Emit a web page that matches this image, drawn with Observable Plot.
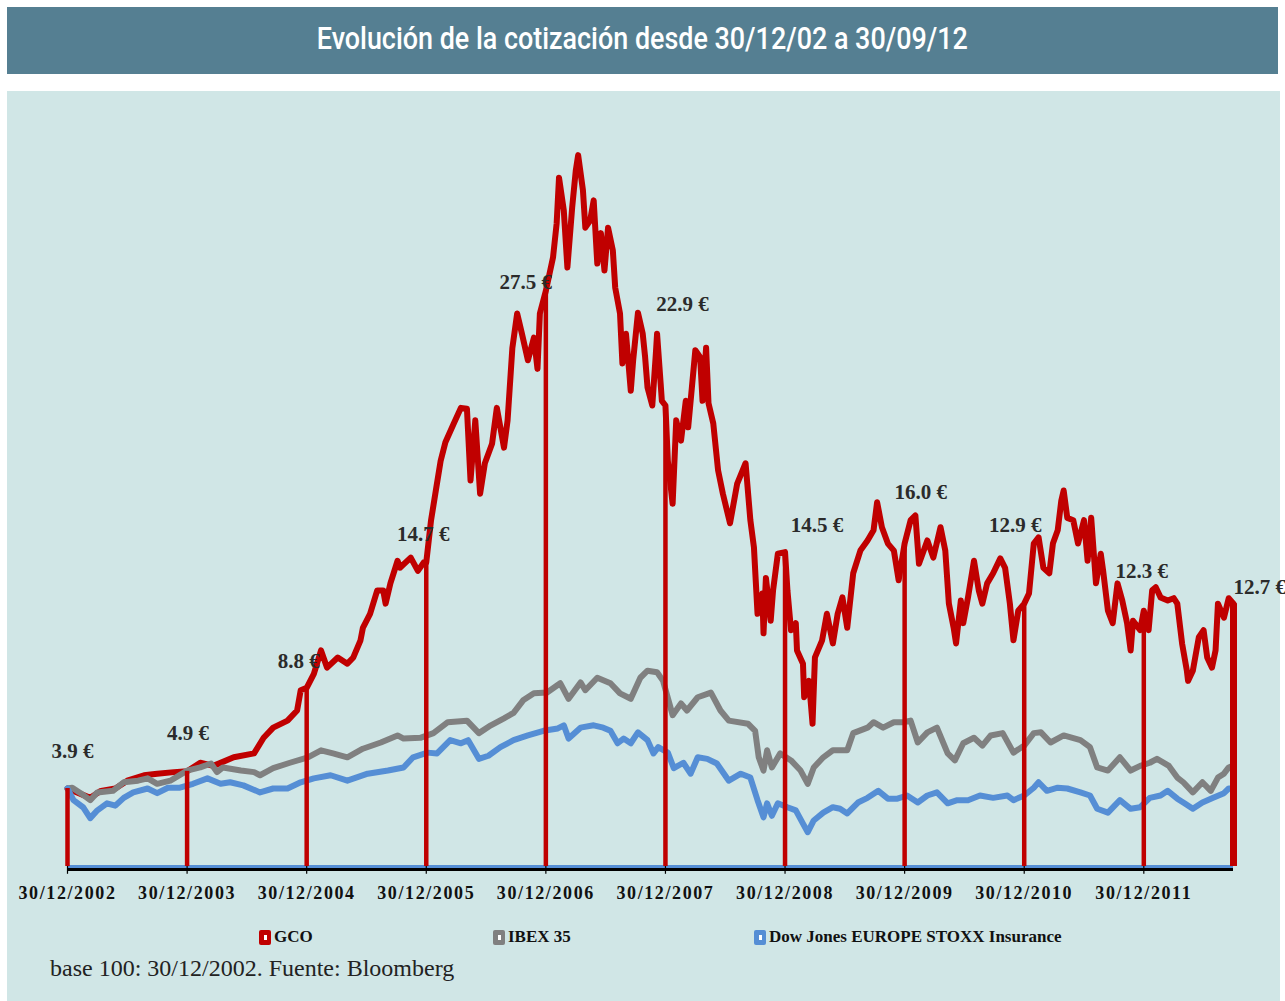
<!DOCTYPE html>
<html><head><meta charset="utf-8">
<script src="https://cdn.jsdelivr.net/npm/d3@7"></script>
<script src="https://cdn.jsdelivr.net/npm/@observablehq/plot@0.6"></script>
<style>
body{margin:0;background:#fff;width:1285px;height:1001px;overflow:hidden;position:relative;}
#banner{position:absolute;left:7px;top:7px;width:1271px;height:67px;background:#557F92;}
#title{position:absolute;left:0;top:-3px;width:100%;height:67px;display:flex;align-items:center;justify-content:center;}
#title span{display:inline-block;color:#fff;font-family:Roboto,sans-serif;font-size:32px;font-weight:500;white-space:nowrap;transform-origin:center;}
#panel{position:absolute;left:7px;top:91px;width:1273px;height:910px;background:#D0E6E6;}
#chart{position:absolute;left:0;top:0;}
.leg{position:absolute;top:928px;height:18px;display:flex;align-items:center;font-family:"Liberation Serif",serif;font-weight:bold;font-size:17px;color:#111;white-space:nowrap;}
.key{width:12px;height:15px;border-radius:2px;margin-right:3px;position:relative;}
.key::after{content:"";position:absolute;left:4.5px;top:5px;width:3px;height:5px;background:#fff;}
#caption{position:absolute;left:50px;top:955px;font-family:"Liberation Serif",serif;font-size:24px;color:#222;white-space:nowrap;}
</style></head>
<body>
<div id="banner"><div id="title"><span id="tt">Evolución de la cotización desde 30/12/02 a 30/09/12</span></div></div>
<div id="panel"><div id="chart"></div></div>
<div class="leg" style="left:259px"><div class="key" style="background:#C00000"></div>GCO</div>
<div class="leg" style="left:493px"><div class="key" style="background:#808080"></div>IBEX 35</div>
<div class="leg" style="left:754px"><div class="key" style="background:#558ED5"></div>Dow Jones EUROPE STOXX Insurance</div>
<div id="caption">base 100: 30/12/2002. Fuente: Bloomberg</div>
<script>
// base 100 index values; time as decimal year (2003.00 = 30/12/2002)
const gco = [
[2003.00,100],[2003.19,88],[2003.28,97],[2003.40,100],[2003.50,110],[2003.64,117],[2003.75,119],[2003.89,121],
[2004.00,122],[2004.11,133],[2004.22,129],[2004.39,140],[2004.56,145],[2004.64,165],[2004.72,178],[2004.84,187],[2004.92,200],[2004.95,226],
[2005.00,229],[2005.06,247],[2005.12,277],[2005.17,255],[2005.26,268],[2005.34,260],[2005.39,268],[2005.45,290],[2005.47,306],[2005.53,324],[2005.59,354],[2005.64,354],[2005.66,337],[2005.70,363],[2005.76,392],[2005.78,383],[2005.87,396],[2005.93,379],[2005.98,390],
[2006.00,390],[2006.04,444],[2006.08,482],[2006.12,520],[2006.16,544],[2006.23,568],[2006.29,588],[2006.34,587],[2006.37,495],[2006.41,572],[2006.45,478],[2006.49,517],[2006.55,542],[2006.59,588],[2006.65,537],[2006.68,572],[2006.72,665],[2006.76,709],[2006.80,683],[2006.85,649],[2006.90,678],[2006.93,638],[2006.95,709],
[2007.00,738],[2007.06,781],[2007.09,824],[2007.11,883],[2007.15,841],[2007.18,768],[2007.22,845],[2007.25,892],[2007.27,912],[2007.31,867],[2007.33,819],[2007.37,828],[2007.40,854],[2007.43,773],[2007.46,812],[2007.49,764],[2007.52,819],[2007.56,790],[2007.58,742],[2007.62,709],[2007.64,645],[2007.67,683],[2007.71,610],[2007.73,649],[2007.77,710],[2007.81,683],[2007.83,653],[2007.85,614],[2007.89,591],[2007.92,658],[2007.93,683],[2007.96,619],[2007.97,597],
[2008.00,591],[2008.02,520],[2008.06,465],[2008.09,572],[2008.13,546],[2008.17,597],[2008.19,563],[2008.25,662],[2008.29,653],[2008.31,597],[2008.34,665],[2008.36,594],[2008.40,568],[2008.44,508],[2008.48,478],[2008.54,440],[2008.60,491],[2008.67,517],[2008.71,444],[2008.74,409],[2008.77,324],[2008.81,350],[2008.82,299],[2008.84,370],[2008.88,315],[2008.90,354],[2008.94,401],
[2009.00,403],[2009.02,354],[2009.05,303],[2009.09,312],[2009.10,277],[2009.15,260],[2009.16,217],[2009.20,238],[2009.23,183],[2009.25,268],[2009.31,290],[2009.35,324],[2009.40,286],[2009.44,324],[2009.48,345],[2009.52,306],[2009.57,376],[2009.63,405],[2009.69,418],[2009.74,431],[2009.77,467],[2009.81,435],[2009.86,414],[2009.91,405],[2009.95,367],
[2010.00,414],[2010.05,444],[2010.09,450],[2010.12,388],[2010.19,418],[2010.24,396],[2010.30,435],[2010.34,405],[2010.37,337],[2010.41,306],[2010.43,286],[2010.47,341],[2010.49,312],[2010.53,345],[2010.58,392],[2010.62,354],[2010.65,337],[2010.69,363],[2010.74,376],[2010.80,395],[2010.84,383],[2010.88,337],[2010.91,290],[2010.95,328],
[2011.00,337],[2011.04,350],[2011.08,414],[2011.12,422],[2011.16,383],[2011.21,376],[2011.24,414],[2011.28,431],[2011.31,469],[2011.33,482],[2011.36,447],[2011.41,444],[2011.45,414],[2011.50,444],[2011.53,392],[2011.56,447],[2011.60,363],[2011.64,401],[2011.66,379],[2011.70,328],[2011.74,312],[2011.78,363],[2011.82,341],[2011.86,312],[2011.89,277],[2011.91,315],[2011.97,303],
[2012.00,328],[2012.04,303],[2012.07,354],[2012.10,358],[2012.14,345],[2012.20,341],[2012.25,344],[2012.28,337],[2012.32,286],[2012.36,251],[2012.37,238],[2012.41,251],[2012.46,294],[2012.50,303],[2012.53,268],[2012.57,255],[2012.60,277],[2012.62,337],[2012.67,319],[2012.71,344],[2012.75,337]
];
const ibex = [
[2003.00,100],[2003.04,101],[2003.11,94],[2003.19,85],[2003.25,95],[2003.38,97],[2003.47,108],[2003.59,110],[2003.67,113],[2003.75,106],[2003.86,110],
[2004.00,123],[2004.11,127],[2004.20,132],[2004.25,121],[2004.30,127],[2004.45,123],[2004.56,121],[2004.61,117],[2004.72,126],[2004.86,133],
[2005.01,140],[2005.12,149],[2005.22,145],[2005.34,140],[2005.47,151],[2005.62,159],[2005.76,168],[2005.81,164],[2005.95,165],
[2006.06,171],[2006.18,185],[2006.34,187],[2006.44,171],[2006.54,181],[2006.65,190],[2006.73,197],[2006.81,213],[2006.90,222],
[2007.01,223],[2007.12,235],[2007.19,215],[2007.29,236],[2007.33,226],[2007.43,242],[2007.54,235],[2007.62,222],[2007.71,215],[2007.79,242],[2007.85,251],[2007.93,249],[2007.98,238],
[2008.06,194],[2008.13,209],[2008.18,200],[2008.27,217],[2008.38,223],[2008.46,200],[2008.53,187],[2008.69,183],[2008.75,174],[2008.78,140],[2008.82,123],[2008.85,149],[2008.89,127],[2008.96,145],
[2009.05,136],[2009.13,123],[2009.19,106],[2009.24,127],[2009.32,140],[2009.40,149],[2009.52,149],[2009.57,171],[2009.69,178],[2009.74,185],[2009.82,178],[2009.91,185],[2009.99,185],
[2010.05,187],[2010.11,159],[2010.19,172],[2010.27,178],[2010.36,145],[2010.42,136],[2010.49,158],[2010.58,165],[2010.65,155],[2010.72,168],[2010.82,171],[2010.91,146],
[2011.00,155],[2011.08,171],[2011.14,172],[2011.22,159],[2011.33,168],[2011.47,162],[2011.55,153],[2011.61,127],[2011.70,123],[2011.80,140],[2011.89,123],[2011.97,129],
[2012.05,133],[2012.11,138],[2012.21,129],[2012.28,114],[2012.33,108],[2012.41,95],[2012.49,108],[2012.56,97],[2012.62,114],[2012.67,119],[2012.71,127],[2012.74,129]
];
const stoxx = [
[2003.00,100],[2003.05,85],[2003.13,76],[2003.19,62],[2003.25,72],[2003.33,81],[2003.40,78],[2003.47,88],[2003.55,95],[2003.67,100],[2003.75,94],[2003.84,101],[2003.94,101],
[2004.05,106],[2004.17,113],[2004.28,106],[2004.36,108],[2004.47,104],[2004.61,95],[2004.72,100],[2004.84,100],[2004.95,108],
[2005.06,113],[2005.20,117],[2005.34,110],[2005.51,119],[2005.68,123],[2005.81,127],[2005.89,140],
[2006.01,146],[2006.09,145],[2006.20,162],[2006.29,158],[2006.35,162],[2006.44,138],[2006.52,142],[2006.62,153],[2006.73,162],[2006.85,168],[2006.98,174],
[2007.10,177],[2007.15,181],[2007.19,164],[2007.29,178],[2007.40,181],[2007.48,178],[2007.54,174],[2007.60,158],[2007.65,164],[2007.71,158],[2007.77,172],[2007.85,162],[2007.90,145],[2007.94,153],
[2008.02,146],[2008.07,126],[2008.15,133],[2008.21,119],[2008.27,140],[2008.35,138],[2008.43,132],[2008.53,110],[2008.63,119],[2008.71,114],[2008.77,85],[2008.82,63],[2008.85,81],[2008.89,65],[2008.94,81],
[2009.02,76],[2009.09,72],[2009.15,55],[2009.19,44],[2009.24,59],[2009.32,69],[2009.40,76],[2009.46,74],[2009.52,68],[2009.61,82],[2009.69,88],[2009.78,97],[2009.86,87],[2009.94,87],
[2010.02,91],[2010.11,82],[2010.19,91],[2010.27,95],[2010.36,81],[2010.44,85],[2010.53,85],[2010.63,91],[2010.74,88],[2010.86,91],[2010.91,85],
[2011.00,91],[2011.08,101],[2011.12,108],[2011.19,97],[2011.28,101],[2011.36,100],[2011.47,95],[2011.55,91],[2011.61,74],[2011.70,69],[2011.80,85],[2011.89,74],[2011.97,76],
[2012.05,88],[2012.14,91],[2012.20,97],[2012.28,87],[2012.34,81],[2012.41,74],[2012.49,82],[2012.58,88],[2012.67,94],[2012.71,100],[2012.75,100]
];
const yearEnds = [2003.00,2004.00,2005.00,2006.00,2007.00,2008.00,2009.00,2010.00,2011.00,2012.00,2012.75];
const priceLabels = ["3.9 €","4.9 €","8.8 €","14.7 €","27.5 €","22.9 €","14.5 €","16.0 €","12.9 €","12.3 €","12.7 €"];
const tickLabels = ["30/12/2002","30/12/2003","30/12/2004","30/12/2005","30/12/2006","30/12/2007","30/12/2008","30/12/2009","30/12/2010","30/12/2011"];

// layout (label nudges in px relative to each year-end point)
const labelNudge = [[5,-37],[1,-38],[-8,-27],[-3,-28],[-20,-9],[17,-101],[32,-27],[16,-51],[-9,-78],[-2,-39],[0,-16]];

const base = Date.UTC(2002,11,30);
const toDate = t => new Date(base + (t - 2003) * 365.2425 * 864e5);
const startD = toDate(2003), endD = toDate(2012.75);
const rows = arr => arr.map(([t,v]) => ({date: toDate(t), v}));
const gcoR = rows(gco), ibexR = rows(ibex), stoxxR = rows(stoxx);
const ends = yearEnds.map((t,i) => ({date: toDate(t), v: gco.find(d => d[0] === t)[1], label: priceLabels[i], i}));
const ticks = tickLabels.map((s,i) => ({date: toDate(yearEnds[i]), s}));
const lastStoxx = stoxxR[stoxxR.length-1];

const RED = "#C00000", GRAY = "#808080", BLUE = "#558ED5";
const serif = "Liberation Serif, Times New Roman, serif";

const labelMarks = ends.map((d,i) => Plot.text([d], {
  x: "date", y: "v", text: "label",
  dx: labelNudge[i][0], dy: labelNudge[i][1],
  textAnchor: i === ends.length-1 ? "start" : "middle",
  fontFamily: serif, fontWeight: "bold", fontSize: 21, fill: "#2b2b2b"
}));

const lineOpts = {x: "date", y: "v", strokeWidth: 6, strokeLinejoin: "round", strokeLinecap: "round"};

const chart = Plot.plot({
  width: 1273, height: 820,
  style: {background: "transparent", overflow: "visible", color: "#111"},
  x: {type: "utc", domain: [startD, endD], range: [60, 1226], axis: null},
  y: {domain: [0, 950], range: [775, 34], axis: null},
  marks: [
    Plot.line(gcoR, {...lineOpts, stroke: RED}),
    Plot.line(ibexR, {...lineOpts, stroke: GRAY}),
    Plot.line(stoxxR, {...lineOpts, stroke: BLUE}),
    Plot.ruleY([0], {x1: startD, x2: endD, stroke: "#000", strokeWidth: 3, dy: 3}),
    Plot.ruleY([0], {x1: startD, x2: endD, stroke: BLUE, strokeWidth: 3}),
    Plot.ruleX([lastStoxx], {x: "date", y1: 0, y2: "v", stroke: BLUE, strokeWidth: 3, dx: -2}),
    Plot.ruleX(ticks, {x: "date", y1: 0, y2: -10, stroke: "#000", strokeWidth: 1.2}),
    Plot.ruleX(ends, {x: "date", y1: 0, y2: "v", stroke: RED, strokeWidth: d => d.i === ends.length-1 ? 7 : 4.5}),
    Plot.text(ticks, {x: "date", y: 0, text: "s", dy: 27, fontFamily: serif, fontWeight: "bold", fontSize: 18, fill: "#111"}),
    ...labelMarks
  ]
});
document.getElementById("chart").appendChild(chart);
chart.querySelectorAll("text").forEach(t => {
  if (/^30\/12\//.test(t.textContent)) t.setAttribute("letter-spacing", "1.6");
});

// fit title width
const tt = document.getElementById("tt");
const w = tt.getBoundingClientRect().width;
tt.style.transform = `scaleX(${651 / w})`;
</script>
</body></html>
